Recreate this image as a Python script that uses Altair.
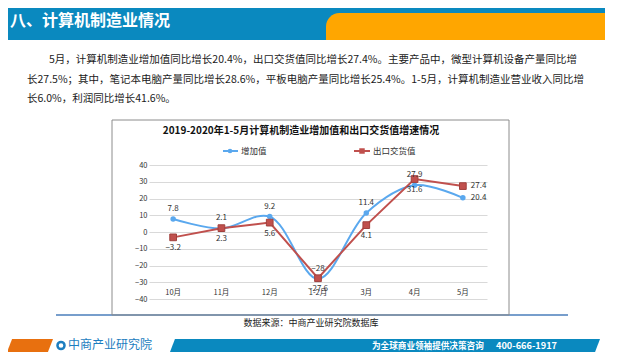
import altair as alt
import pandas as pd

# ---------------- data ----------------
months = ["10月", "11月", "12月", "1-2月", "3月", "4月", "5月"]
zengjia = [7.8, 2.1, 9.2, -28.0, 11.4, 27.9, 20.4]      # 增加值 增速
chukou = [-3.2, 2.3, 5.6, -27.6, 4.1, 31.6, 27.4]       # 出口交货值 增速
series_names = ["增加值", "出口交货值"]
y_ticks = [-40, -30, -20, -10, 0, 10, 20, 30, 40]

header_title = "八、计算机制造业情况"
para_lines = [
    "5月，计算机制造业增加值同比增长20.4%，出口交货值同比增长27.4%。主要产品中，微型计算机设备产量同比增",
    "长27.5%；其中，笔记本电脑产量同比增长28.6%，平板电脑产量同比增长25.4%。1-5月，计算机制造业营业收入同比增",
    "长6.0%，利润同比增长41.6%。",
]
chart_title = "2019-2020年1-5月计算机制造业增加值和出口交货值增速情况"
source_text = "数据来源：中商产业研究院数据库"
logo_text = "中商产业研究院"
slogan_text = "为全球商业领袖提供决策咨询"
phone_text = "400-666-1917"

FONT = "Noto Sans CJK SC"
BLUE = "#5AA8EE"
RED = "#C0504D"

df = pd.DataFrame({
    "month": months * 2,
    "value": zengjia + chukou,
    "series": [series_names[0]] * len(months) + [series_names[1]] * len(months),
})
mdf = pd.DataFrame({"month": months})

# plot area in page px: x 149..487, y 165..299 ; helpers convert page coords to view coords
OX, OY = 149, 165
def px(v):
    return alt.value(v - OX)
def py(v):
    return alt.value(v - OY)

one = alt.Data(values=[{"a": 1}])
def deco():
    return alt.Chart(one)

x_enc = alt.X("month:N", sort=months, scale=alt.Scale(type="point", padding=0.5), axis=None)
y_axis = alt.Axis(values=y_ticks, grid=True, gridColor="#d9d9d9", gridWidth=1, domain=False,
                  ticks=False, labelFontSize=7.5, labelFont=FONT, labelColor="#333333",
                  labelPadding=2, title=None)
y_enc = alt.Y("value:Q", scale=alt.Scale(domain=[-40, 40], nice=False, zero=False), axis=y_axis)

base = alt.Chart(df)
blue_f = alt.datum.series == series_names[0]
red_f = alt.datum.series == series_names[1]
last = months[-1]

layers = []

# ---------- header ----------
layers.append(deco().mark_rect(color="#0A89BF").encode(x=px(8), x2=px(605), y=py(8), y2=py(40)))
layers.append(deco().mark_rect(color="#FFA600", cornerRadiusTopLeft=26).encode(
    x=px(326), x2=px(605), y=py(13), y2=py(40)))
layers.append(deco().mark_text(text=header_title, font=FONT, fontSize=16, fontWeight="bold",
                               color="white", align="left", baseline="middle").encode(x=px(10), y=py(21)))

# paragraph
para_pos = [(49, 60), (27, 80), (27, 99)]
for line, (lx, ly) in zip(para_lines, para_pos):
    layers.append(deco().mark_text(text=line, font=FONT, fontSize=10.5, color="#1a1a1a",
                                   align="left", baseline="middle").encode(x=px(lx), y=py(ly)))

# ---------- chart frame ----------
layers.append(deco().mark_rule(color="#4A7EBB", strokeWidth=1.5).encode(x=px(56), x2=px(568), y=py(315)))
layers.append(deco().mark_rect(filled=False, stroke="#8c8c8c", strokeWidth=1).encode(
    x=px(112), x2=px(509), y=py(120), y2=py(315)))
layers.append(deco().mark_text(text=chart_title, font=FONT, fontSize=10, fontWeight="bold",
                               color="#111111", align="center", baseline="middle").encode(x=px(301), y=py(131)))

# legend
layers.append(deco().mark_rule(color=BLUE, strokeWidth=2).encode(x=px(223), x2=px(238), y=py(151)))
layers.append(deco().mark_circle(color=BLUE, size=22, opacity=1).encode(x=px(230), y=py(151)))
layers.append(deco().mark_text(text=series_names[0], font=FONT, fontSize=8.5, color="#333333",
                               align="left", baseline="middle").encode(x=px(241), y=py(151)))
layers.append(deco().mark_rule(color=RED, strokeWidth=2).encode(x=px(354), x2=px(370), y=py(151)))
layers.append(deco().mark_square(color=RED, size=30, opacity=1).encode(x=px(362), y=py(151)))
layers.append(deco().mark_text(text=series_names[1], font=FONT, fontSize=8.5, color="#333333",
                               align="left", baseline="middle").encode(x=px(373), y=py(151)))

# ---------- data layers ----------
layers.append(base.transform_filter(blue_f).mark_line(interpolate="catmull-rom", color=BLUE, strokeWidth=2)
              .encode(x=x_enc, y=y_enc))
layers.append(base.transform_filter(red_f).mark_line(color=RED, strokeWidth=2).encode(x=x_enc, y=y_enc))
layers.append(base.transform_filter(blue_f).mark_circle(color=BLUE, size=30, opacity=1).encode(x=x_enc, y=y_enc))
layers.append(base.transform_filter(red_f).mark_square(fill=RED, stroke="#A0403D", strokeWidth=1, size=45,
                                                        opacity=1).encode(x=x_enc, y=y_enc))

lbl = dict(font=FONT, fontSize=8, color="#333333", baseline="middle")
layers.append(base.transform_filter(blue_f & (alt.datum.month != last))
              .mark_text(dy=-10, align="center", **lbl)
              .encode(x=x_enc, y=y_enc, text=alt.Text("value:Q", format=".1~f")))
layers.append(base.transform_filter(red_f & (alt.datum.month != last))
              .mark_text(dy=11, align="center", **lbl)
              .encode(x=x_enc, y=y_enc, text=alt.Text("value:Q", format=".1~f")))
layers.append(base.transform_filter(alt.datum.month == last)
              .mark_text(dx=8, align="left", **lbl)
              .encode(x=x_enc, y=y_enc, text=alt.Text("value:Q", format=".1f")))

# month labels (sit just above the -40 gridline, as in the reference)
layers.append(alt.Chart(mdf).mark_text(font=FONT, fontSize=7.5, color="#333333", baseline="middle")
              .encode(x=x_enc, y=py(293), text="month:N"))

# source
layers.append(deco().mark_text(text=source_text, font=FONT, fontSize=9, color="#222222",
                               align="center", baseline="middle").encode(x=px(311), y=py(323)))

# ---------- footer ----------
layers.append(deco().mark_point(shape="M -0.78 -0.28 L 1 -0.28 L 0.78 0.28 L -1 0.28 Z", size=2116,
                                filled=True, color="#E8700F", opacity=1).encode(x=px(30), y=py(345.5)))
layers.append(deco().mark_point(shape="circle", size=50, filled=False, color="#1C7DC0", strokeWidth=2.5,
                                opacity=1).encode(x=px(61), y=py(345.5)))
layers.append(deco().mark_text(text=logo_text, font=FONT, fontSize=12, color="#1C7DC0",
                               align="left", baseline="middle").encode(x=px(68), y=py(345)))
layers.append(deco().mark_point(shape="M -0.977 -0.03 L 1 -0.03 L 0.977 0.03 L -1 0.03 Z", size=184900,
                                filled=True, color="#0A89BF", opacity=1).encode(x=px(385), y=py(345.5)))
layers.append(deco().mark_text(text=slogan_text, font=FONT, fontSize=8.6, fontWeight="bold", color="white",
                               align="left", baseline="middle").encode(x=px(372), y=py(345.5)))
layers.append(deco().mark_text(text=phone_text, font=FONT, fontSize=9.2, fontWeight="bold", color="white",
                               align="left", baseline="middle").encode(x=px(496), y=py(345.5)))

chart = alt.layer(*layers).properties(
    width=338, height=134,
    padding={"left": 141, "top": 157, "right": 145, "bottom": 53},
    autosize=alt.AutoSizeParams(type="none"),
    background="white",
).configure_view(stroke=None)

chart.save("out.html", embed_options={"renderer": "svg", "actions": False})
